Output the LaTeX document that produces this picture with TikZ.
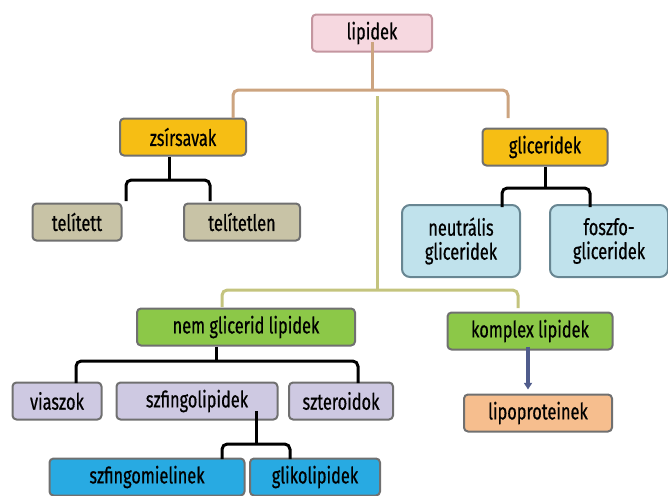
\documentclass[tikz,border=0pt]{standalone}
\usepackage{fontspec}
\setmainfont[FakeStretch=0.72,FakeBold=0.6]{Fira Sans}
\usetikzlibrary{positioning,arrows.meta}

\definecolor{pinkfill}{RGB}{246,216,224}
\definecolor{pinkdraw}{RGB}{196,150,160}
\definecolor{goldfill}{RGB}{246,190,20}
\definecolor{khakifill}{RGB}{200,195,166}
\definecolor{icefill}{RGB}{192,226,236}
\definecolor{icedraw}{RGB}{104,134,146}
\definecolor{leaffill}{RGB}{140,200,72}
\definecolor{lilacfill}{RGB}{206,201,226}
\definecolor{peachfill}{RGB}{246,190,142}
\definecolor{skyfill}{RGB}{40,170,226}
\definecolor{boxdraw}{RGB}{112,112,112}
\definecolor{tanline}{RGB}{204,164,128}
\definecolor{oliveline}{RGB}{196,196,126}
\definecolor{slateline}{RGB}{80,92,140}

\tikzset{every picture/.style={line width=0.75pt},
  box/.style={draw=boxdraw, rounded corners=3pt, line width=1.5pt, inner sep=1pt,
    minimum height=27.75pt, align=center, font=\fontsize{17}{18}\selectfont},
  rootbox/.style={box, fill=pinkfill, draw=pinkdraw},
  goldbox/.style={box, fill=goldfill},
  khakibox/.style={box, fill=khakifill},
  icebox/.style={box, fill=icefill, draw=icedraw, minimum height=54pt, rounded corners=6pt},
  leafbox/.style={box, fill=leaffill},
  lilacbox/.style={box, fill=lilacfill},
  peachbox/.style={box, fill=peachfill},
  skybox/.style={box, fill=skyfill},
  tanbrace/.style={draw=tanline, line width=2.25pt, rounded corners=4pt},
  olivebrace/.style={draw=oliveline, line width=2.25pt, rounded corners=4pt},
  blackbrace/.style={draw=black, line width=2.25pt, rounded corners=4pt}
}

\begin{document}
\begin{tikzpicture}[x=0.75pt,y=0.75pt,yscale=-1,xscale=1]
\useasboundingbox (0,0) rectangle (668,496);

% boxes
\node[rootbox, minimum width=90pt] (lipidek) at (372,33) {lipidek};
\node[goldbox, minimum width=94.5pt] (zsirsavak) at (183,137) {zsírsavak};
\node[goldbox, minimum width=93.75pt] (gliceridek) at (545,147) {gliceridek};
\node[khakibox, minimum width=66.75pt] (telitett) at (77,222) {telített};
\node[khakibox, minimum width=87pt] (telitetlen) at (242,222) {telítetlen};
\node[icebox, minimum width=88.5pt] (neutralis) at (461,241) {neutrális\\gliceridek};
\node[icebox, minimum width=88.5pt] (foszfo) at (609,241) {foszfo-\\gliceridek};
\node[leafbox, minimum width=163.5pt] (nemglic) at (246,327) {nem glicerid lipidek};
\node[leafbox, minimum width=123.75pt] (komplex) at (530,331) {komplex lipidek};
\node[lilacbox, minimum width=66.75pt] (viaszok) at (57,401) {viaszok};
\node[lilacbox, minimum width=120.75pt] (szfingo) at (197,401) {szfingolipidek};
\node[lilacbox, minimum width=78pt] (szteroid) at (341,401) {szteroidok};
\node[peachbox, minimum width=111pt] (lipoprot) at (538,413) {lipoproteinek};
\node[skybox, minimum width=146.25pt] (szfmiel) at (147,477) {szfingomielinek};
\node[skybox, minimum width=97.5pt] (glikolip) at (315,477) {glikolipidek};

% brace joints and leg ends
\coordinate (lipjoin) at (372,90);
\coordinate (lipleft) at (233,118);
\coordinate (lipright) at (508,118);
\coordinate (nemjoin) at (377,290);
\coordinate (nemleft) at (222,307);
\coordinate (nemright) at (518,308);
\coordinate (zsjoin) at (169,180);
\coordinate (zsleft) at (126,201);
\coordinate (zsright) at (210,201);
\coordinate (gljoin) at (545,188);
\coordinate (glleft) at (502,207);
\coordinate (glright) at (590,207);
\coordinate (ngjoin) at (216,361);
\coordinate (ngleft) at (76,383);
\coordinate (ngright) at (358,383);
\coordinate (szjoin) at (256,444);
\coordinate (szleft) at (222,459);
\coordinate (szright) at (290,459);

% lipidek brace
\draw[tanbrace] ([yshift=-8]lipidek.south) -- (lipjoin);
\draw[tanbrace] (lipleft) |- (lipjoin) -| (lipright);
% nem glicerid / komplex brace
\draw[olivebrace] (377,96) -- (nemjoin);
\draw[olivebrace] (nemleft) |- (nemjoin) -| (nemright);
% zsirsavak brace
\draw[blackbrace] (zsirsavak.south -| zsjoin) -- (zsjoin);
\draw[blackbrace] (zsleft) |- (zsjoin) -| (zsright);
% gliceridek brace
\draw[blackbrace] (gliceridek.south) -- (gljoin);
\draw[blackbrace] (glleft) |- (gljoin) -| (glright);
% nem glicerid brace
\draw[blackbrace] (nemglic.south -| ngjoin) -- (ngjoin);
\draw[blackbrace] (ngleft) |- (ngjoin) -| (ngright);
% szfingolipidek brace
\draw[blackbrace] ([yshift=-7]szfingo.south -| szjoin) -- (szjoin);
\draw[blackbrace] (szleft) |- (szjoin) -| (szright);
% komplex arrow
\draw[slateline, line width=2.5pt, -{Triangle[length=5pt,width=6pt]}] ([yshift=-3]komplex.south -| 528,0) -- ([yshift=-3]lipoprot.north -| 528,0);

\end{tikzpicture}
\end{document}
